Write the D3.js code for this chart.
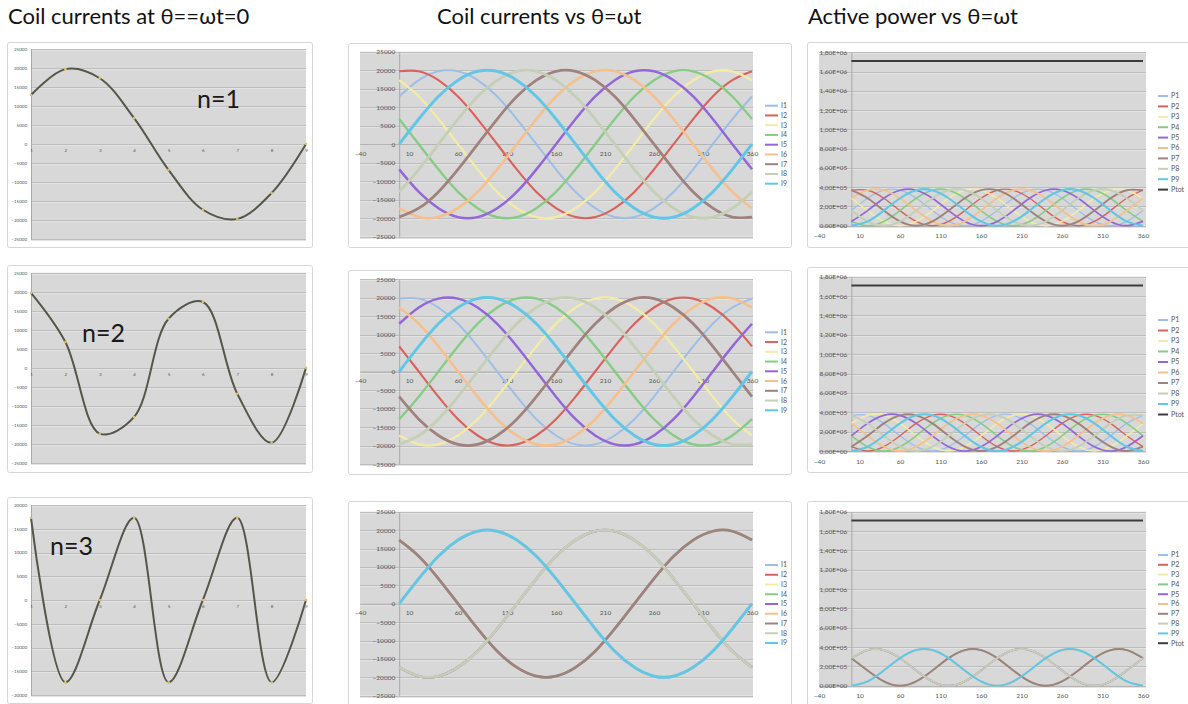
<!DOCTYPE html>
<html>
<head>
<meta charset="utf-8">
<script src="https://cdn.jsdelivr.net/npm/d3@7"></script>
<style>
  body { margin: 0; background: #fff; }
  text { font-family: Lato, 'Open Sans', sans-serif; }
  .title { font-size: 22px; fill: #111; }
  .n-label { font-size: 25px; fill: #1a1a1a; }
  .axis text { fill: #555; }
  .legend text { font-size: 7px; fill: #555; }
</style>
</head>
<body>
<svg id="chart" width="1188" height="704"></svg>
<script>
// ---- data ----
const thetaValues = [0, 20, 40, 60, 80, 100, 120, 140, 160, 180, 200, 220, 240, 260, 280, 300, 320, 340, 360];
const coilNumbers = [1, 2, 3, 4, 5, 6, 7, 8, 9];
const currentNames = ['I1', 'I2', 'I3', 'I4', 'I5', 'I6', 'I7', 'I8', 'I9'];
const powerNames = ['P1', 'P2', 'P3', 'P4', 'P5', 'P6', 'P7', 'P8', 'P9', 'Ptot'];

const thetaTicks = [-40, 10, 60, 110, 160, 210, 260, 310, 360];
const currentTicks = [-25000, -20000, -15000, -10000, -5000, 0, 5000, 10000, 15000, 20000, 25000];
const currentTicksN3 = [-20000, -15000, -10000, -5000, 0, 5000, 10000, 15000, 20000];
const powerTicks = [0, 200000, 400000, 600000, 800000, 1000000, 1200000, 1400000, 1600000, 1800000];

// coil currents at theta = 0, coil 1..9
const snapshotN1 = [12900, 19700, 17300, 6800, -6800, -17300, -19700, -12900, 0];
const snapshotN2 = [19700, 6800, -17300, -12900, 12900, 17300, -6800, -19700, 0];
const snapshotN3 = [17300, -17300, 0, 17300, -17300, 0, 17300, -17300, 0];

// coil currents vs theta (one row per coil I1..I9)
const currentsN1 = [
  [12900, 17300, 19700, 19700, 17300, 12900, 6800, 0, -6800, -12900, -17300, -19700, -19700, -17300, -12900, -6800, 0, 6800, 12900],
  [19700, 19700, 17300, 12900, 6800, 0, -6800, -12900, -17300, -19700, -19700, -17300, -12900, -6800, 0, 6800, 12900, 17300, 19700],
  [17300, 12900, 6800, 0, -6800, -12900, -17300, -19700, -19700, -17300, -12900, -6800, 0, 6800, 12900, 17300, 19700, 19700, 17300],
  [6800, 0, -6800, -12900, -17300, -19700, -19700, -17300, -12900, -6800, 0, 6800, 12900, 17300, 19700, 19700, 17300, 12900, 6800],
  [-6800, -12900, -17300, -19700, -19700, -17300, -12900, -6800, 0, 6800, 12900, 17300, 19700, 19700, 17300, 12900, 6800, 0, -6800],
  [-17300, -19700, -19700, -17300, -12900, -6800, 0, 6800, 12900, 17300, 19700, 19700, 17300, 12900, 6800, 0, -6800, -12900, -17300],
  [-19700, -17300, -12900, -6800, 0, 6800, 12900, 17300, 19700, 19700, 17300, 12900, 6800, 0, -6800, -12900, -17300, -19700, -19700],
  [-12900, -6800, 0, 6800, 12900, 17300, 19700, 19700, 17300, 12900, 6800, 0, -6800, -12900, -17300, -19700, -19700, -17300, -12900],
  [0, 6800, 12900, 17300, 19700, 19700, 17300, 12900, 6800, 0, -6800, -12900, -17300, -19700, -19700, -17300, -12900, -6800, 0]
];
const currentsN2 = [
  [19700, 19700, 17300, 12900, 6800, 0, -6800, -12900, -17300, -19700, -19700, -17300, -12900, -6800, 0, 6800, 12900, 17300, 19700],
  [6800, 0, -6800, -12900, -17300, -19700, -19700, -17300, -12900, -6800, 0, 6800, 12900, 17300, 19700, 19700, 17300, 12900, 6800],
  [-17300, -19700, -19700, -17300, -12900, -6800, 0, 6800, 12900, 17300, 19700, 19700, 17300, 12900, 6800, 0, -6800, -12900, -17300],
  [-12900, -6800, 0, 6800, 12900, 17300, 19700, 19700, 17300, 12900, 6800, 0, -6800, -12900, -17300, -19700, -19700, -17300, -12900],
  [12900, 17300, 19700, 19700, 17300, 12900, 6800, 0, -6800, -12900, -17300, -19700, -19700, -17300, -12900, -6800, 0, 6800, 12900],
  [17300, 12900, 6800, 0, -6800, -12900, -17300, -19700, -19700, -17300, -12900, -6800, 0, 6800, 12900, 17300, 19700, 19700, 17300],
  [-6800, -12900, -17300, -19700, -19700, -17300, -12900, -6800, 0, 6800, 12900, 17300, 19700, 19700, 17300, 12900, 6800, 0, -6800],
  [-19700, -17300, -12900, -6800, 0, 6800, 12900, 17300, 19700, 19700, 17300, 12900, 6800, 0, -6800, -12900, -17300, -19700, -19700],
  [0, 6800, 12900, 17300, 19700, 19700, 17300, 12900, 6800, 0, -6800, -12900, -17300, -19700, -19700, -17300, -12900, -6800, 0]
];
const currentsN3 = [
  [17300, 12900, 6800, 0, -6800, -12900, -17300, -19700, -19700, -17300, -12900, -6800, 0, 6800, 12900, 17300, 19700, 19700, 17300],
  [-17300, -19700, -19700, -17300, -12900, -6800, 0, 6800, 12900, 17300, 19700, 19700, 17300, 12900, 6800, 0, -6800, -12900, -17300],
  [0, 6800, 12900, 17300, 19700, 19700, 17300, 12900, 6800, 0, -6800, -12900, -17300, -19700, -19700, -17300, -12900, -6800, 0],
  [17300, 12900, 6800, 0, -6800, -12900, -17300, -19700, -19700, -17300, -12900, -6800, 0, 6800, 12900, 17300, 19700, 19700, 17300],
  [-17300, -19700, -19700, -17300, -12900, -6800, 0, 6800, 12900, 17300, 19700, 19700, 17300, 12900, 6800, 0, -6800, -12900, -17300],
  [0, 6800, 12900, 17300, 19700, 19700, 17300, 12900, 6800, 0, -6800, -12900, -17300, -19700, -19700, -17300, -12900, -6800, 0],
  [17300, 12900, 6800, 0, -6800, -12900, -17300, -19700, -19700, -17300, -12900, -6800, 0, 6800, 12900, 17300, 19700, 19700, 17300],
  [-17300, -19700, -19700, -17300, -12900, -6800, 0, 6800, 12900, 17300, 19700, 19700, 17300, 12900, 6800, 0, -6800, -12900, -17300],
  [0, 6800, 12900, 17300, 19700, 19700, 17300, 12900, 6800, 0, -6800, -12900, -17300, -19700, -19700, -17300, -12900, -6800, 0]
];

// active power vs theta (P1..P9, then Ptot)
const powersN1 = [
  [157000, 285000, 368500, 368500, 285000, 157000, 44500, 0, 44500, 157000, 285000, 368500, 368500, 285000, 157000, 44500, 0, 44500, 157000],
  [368500, 368500, 285000, 157000, 44500, 0, 44500, 157000, 285000, 368500, 368500, 285000, 157000, 44500, 0, 44500, 157000, 285000, 368500],
  [285000, 157000, 44500, 0, 44500, 157000, 285000, 368500, 368500, 285000, 157000, 44500, 0, 44500, 157000, 285000, 368500, 368500, 285000],
  [44500, 0, 44500, 157000, 285000, 368500, 368500, 285000, 157000, 44500, 0, 44500, 157000, 285000, 368500, 368500, 285000, 157000, 44500],
  [44500, 157000, 285000, 368500, 368500, 285000, 157000, 44500, 0, 44500, 157000, 285000, 368500, 368500, 285000, 157000, 44500, 0, 44500],
  [285000, 368500, 368500, 285000, 157000, 44500, 0, 44500, 157000, 285000, 368500, 368500, 285000, 157000, 44500, 0, 44500, 157000, 285000],
  [368500, 285000, 157000, 44500, 0, 44500, 157000, 285000, 368500, 368500, 285000, 157000, 44500, 0, 44500, 157000, 285000, 368500, 368500],
  [157000, 44500, 0, 44500, 157000, 285000, 368500, 368500, 285000, 157000, 44500, 0, 44500, 157000, 285000, 368500, 368500, 285000, 157000],
  [0, 44500, 157000, 285000, 368500, 368500, 285000, 157000, 44500, 0, 44500, 157000, 285000, 368500, 368500, 285000, 157000, 44500, 0],
  [1710000, 1710000, 1710000, 1710000, 1710000, 1710000, 1710000, 1710000, 1710000, 1710000, 1710000, 1710000, 1710000, 1710000, 1710000, 1710000, 1710000, 1710000, 1710000]
];
const powersN2 = [
  [368500, 368500, 285000, 157000, 44500, 0, 44500, 157000, 285000, 368500, 368500, 285000, 157000, 44500, 0, 44500, 157000, 285000, 368500],
  [44500, 0, 44500, 157000, 285000, 368500, 368500, 285000, 157000, 44500, 0, 44500, 157000, 285000, 368500, 368500, 285000, 157000, 44500],
  [285000, 368500, 368500, 285000, 157000, 44500, 0, 44500, 157000, 285000, 368500, 368500, 285000, 157000, 44500, 0, 44500, 157000, 285000],
  [157000, 44500, 0, 44500, 157000, 285000, 368500, 368500, 285000, 157000, 44500, 0, 44500, 157000, 285000, 368500, 368500, 285000, 157000],
  [157000, 285000, 368500, 368500, 285000, 157000, 44500, 0, 44500, 157000, 285000, 368500, 368500, 285000, 157000, 44500, 0, 44500, 157000],
  [285000, 157000, 44500, 0, 44500, 157000, 285000, 368500, 368500, 285000, 157000, 44500, 0, 44500, 157000, 285000, 368500, 368500, 285000],
  [44500, 157000, 285000, 368500, 368500, 285000, 157000, 44500, 0, 44500, 157000, 285000, 368500, 368500, 285000, 157000, 44500, 0, 44500],
  [368500, 285000, 157000, 44500, 0, 44500, 157000, 285000, 368500, 368500, 285000, 157000, 44500, 0, 44500, 157000, 285000, 368500, 368500],
  [0, 44500, 157000, 285000, 368500, 368500, 285000, 157000, 44500, 0, 44500, 157000, 285000, 368500, 368500, 285000, 157000, 44500, 0],
  [1710000, 1710000, 1710000, 1710000, 1710000, 1710000, 1710000, 1710000, 1710000, 1710000, 1710000, 1710000, 1710000, 1710000, 1710000, 1710000, 1710000, 1710000, 1710000]
];
const powersN3 = [
  [285000, 157000, 44500, 0, 44500, 157000, 285000, 368500, 368500, 285000, 157000, 44500, 0, 44500, 157000, 285000, 368500, 368500, 285000],
  [285000, 368500, 368500, 285000, 157000, 44500, 0, 44500, 157000, 285000, 368500, 368500, 285000, 157000, 44500, 0, 44500, 157000, 285000],
  [0, 44500, 157000, 285000, 368500, 368500, 285000, 157000, 44500, 0, 44500, 157000, 285000, 368500, 368500, 285000, 157000, 44500, 0],
  [285000, 157000, 44500, 0, 44500, 157000, 285000, 368500, 368500, 285000, 157000, 44500, 0, 44500, 157000, 285000, 368500, 368500, 285000],
  [285000, 368500, 368500, 285000, 157000, 44500, 0, 44500, 157000, 285000, 368500, 368500, 285000, 157000, 44500, 0, 44500, 157000, 285000],
  [0, 44500, 157000, 285000, 368500, 368500, 285000, 157000, 44500, 0, 44500, 157000, 285000, 368500, 368500, 285000, 157000, 44500, 0],
  [285000, 157000, 44500, 0, 44500, 157000, 285000, 368500, 368500, 285000, 157000, 44500, 0, 44500, 157000, 285000, 368500, 368500, 285000],
  [285000, 368500, 368500, 285000, 157000, 44500, 0, 44500, 157000, 285000, 368500, 368500, 285000, 157000, 44500, 0, 44500, 157000, 285000],
  [0, 44500, 157000, 285000, 368500, 368500, 285000, 157000, 44500, 0, 44500, 157000, 285000, 368500, 368500, 285000, 157000, 44500, 0],
  [1710000, 1710000, 1710000, 1710000, 1710000, 1710000, 1710000, 1710000, 1710000, 1710000, 1710000, 1710000, 1710000, 1710000, 1710000, 1710000, 1710000, 1710000, 1710000]
];

// ---- styles and layout ----
const seriesColors = ['#9dbfe6', '#d8625c', '#f3eca6', '#86cc84', '#9366d9', '#f6c08e', '#9f827d', '#c5cfb6', '#62c6e6', '#3c3c3c'];
const PLOT_FILL = '#d8d8d8';
const GRID_DARK = '#bdbdbd';
const GRID_LIGHT = '#e3e3e3';

const rows = [
  {
    label: 'n=1', labelX: 197, labelY: 108,
    snapshot: snapshotN1, snapTicks: currentTicks, snapFrame: [7, 42, 305, 205], snapTop: 49, snapBottom: 239,
    currents: currentsN1, midFrame: [348, 43, 443, 204], midTop: 51.7, midBottom: 236.7, midLegendY: 105.7,
    powers: powersN1, powFrame: [807, 42, 400, 205], powTop: 52.3, powBottom: 225.7, powLegendY: 96, powLegendStep: 10.4
  },
  {
    label: 'n=2', labelX: 82, labelY: 342,
    snapshot: snapshotN2, snapTicks: currentTicks, snapFrame: [7, 265, 305, 207], snapTop: 272.7, snapBottom: 463,
    currents: currentsN2, midFrame: [348, 270, 443, 204], midTop: 279, midBottom: 464, midLegendY: 332.3,
    powers: powersN2, powFrame: [807, 267, 400, 205], powTop: 276.7, powBottom: 451, powLegendY: 320, powLegendStep: 10.5
  },
  {
    label: 'n=3', labelX: 50, labelY: 555,
    snapshot: snapshotN3, snapTicks: currentTicksN3, snapFrame: [7, 497, 305, 206], snapTop: 505, snapBottom: 695,
    currents: currentsN3, midFrame: [348, 501, 443, 210], midTop: 511.7, midBottom: 695.7, midLegendY: 565,
    powers: powersN3, powFrame: [807, 501, 400, 210], powTop: 511.7, powBottom: 685.7, powLegendY: 555, powLegendStep: 9.8
  }
];

const svg = d3.select('#chart');

svg.append('text').classed('title', true).attr('x', 8).attr('y', 24).text('Coil currents at θ==ωt=0');
svg.append('text').classed('title', true).attr('x', 437).attr('y', 24).text('Coil currents vs θ=ωt');
svg.append('text').classed('title', true).attr('x', 808).attr('y', 24).text('Active power vs θ=ωt');

function frame(g, [x, y, w, h]) {
  g.append('rect')
    .attr('x', x + 0.5)
    .attr('y', y + 0.5)
    .attr('width', w)
    .attr('height', h)
    .attr('rx', 2)
    .attr('fill', '#fff')
    .attr('stroke', '#d6d6d6');
}

function plotArea(g, x0, x1, yScale, ticks) {
  const [bottom, top] = yScale.range();
  g.append('rect')
    .attr('x', x0)
    .attr('y', top)
    .attr('width', x1 - x0)
    .attr('height', bottom - top)
    .attr('fill', PLOT_FILL);
  const grid = g.append('g');
  grid.selectAll('line.dark')
    .data(ticks)
    .join('line')
      .attr('class', 'dark')
      .attr('x1', x0)
      .attr('x2', x1)
      .attr('y1', (d) => Math.round(yScale(d)) + 0.5)
      .attr('y2', (d) => Math.round(yScale(d)) + 0.5)
      .attr('stroke', GRID_DARK);
  grid.selectAll('line.light')
    .data(ticks)
    .join('line')
      .attr('class', 'light')
      .attr('x1', x0)
      .attr('x2', x1)
      .attr('y1', (d) => Math.round(yScale(d)) + 1.5)
      .attr('y2', (d) => Math.round(yScale(d)) + 1.5)
      .attr('stroke', GRID_LIGHT);
}

function styleAxis(axisG, fontSize) {
  axisG.classed('axis', true)
    .attr('font-family', null)
    .attr('font-size', fontSize);
}

const plainNumber = d3.format('d');

function powerLabel(v) {
  const [mant, exp] = d3.format('.2e')(v).split('e');
  const e = +exp;
  return mant.replace('.', ',') + 'E' + (e < 0 ? '-' : '+') + String(Math.abs(e)).padStart(2, '0');
}

function drawSnapshot(row) {
  const g = svg.append('g');
  frame(g, row.snapFrame);
  const x = d3.scaleLinear().domain([1, 9]).range([31, 306]);
  const y = d3.scaleLinear().domain(d3.extent(row.snapTicks)).range([row.snapBottom, row.snapTop]);
  plotArea(g, 31, 306, y, row.snapTicks);

  g.append('g')
    .attr('transform', `translate(31,0)`)
    .call(d3.axisLeft(y).tickValues(row.snapTicks).tickFormat(plainNumber).tickSize(0).tickPadding(4))
    .call((a) => styleAxis(a, 4.5))
    .call((a) => a.select('.domain').attr('stroke', '#a8a8a8'));
  g.append('g')
    .attr('transform', `translate(0,${y(0)})`)
    .call(d3.axisBottom(x).tickValues(coilNumbers).tickFormat(plainNumber).tickSize(0).tickPadding(5))
    .call((a) => styleAxis(a, 4.5))
    .call((a) => a.select('.domain').remove());

  const line = d3.line()
    .x((d, i) => x(coilNumbers[i]))
    .y((d) => y(d))
    .curve(d3.curveCatmullRom.alpha(0.5));
  g.append('path')
    .datum(row.snapshot)
    .attr('d', line)
    .attr('fill', 'none')
    .attr('stroke', '#55554a')
    .attr('stroke-width', 2);
  g.selectAll('circle')
    .data(row.snapshot)
    .join('circle')
      .attr('cx', (d, i) => x(coilNumbers[i]))
      .attr('cy', (d) => y(d))
      .attr('r', 1.3)
      .attr('fill', '#d9c35c');

  g.append('text')
    .classed('n-label', true)
    .attr('x', row.labelX)
    .attr('y', row.labelY)
    .text(row.label);
}

function drawCurrents(row) {
  const g = svg.append('g');
  frame(g, row.midFrame);
  const x = d3.scaleLinear().domain([-40, 360]).range([360, 752]);
  const y = d3.scaleLinear().domain([-25000, 25000]).range([row.midBottom, row.midTop]);
  plotArea(g, 360, 753, y, currentTicks);

  g.append('g')
    .attr('transform', `translate(0,${y(0)})`)
    .call(d3.axisBottom(x).tickValues(thetaTicks).tickFormat(plainNumber).tickSize(0).tickPadding(7))
    .call((a) => styleAxis(a, 6.5))
    .call((a) => a.select('.domain').attr('stroke', '#b0b0b0'));
  g.append('g')
    .attr('transform', `translate(${x(0)},0)`)
    .call(d3.axisLeft(y).tickValues(currentTicks).tickFormat(plainNumber).tickSize(0).tickPadding(4))
    .call((a) => styleAxis(a, 6.5))
    .call((a) => a.select('.domain').attr('stroke', '#a8a8a8'));

  const line = d3.line()
    .x((d, i) => x(thetaValues[i]))
    .y((d) => y(d))
    .curve(d3.curveNatural);
  // later series a touch wider so coincident curves hide the ones below
  g.append('g')
    .selectAll('path')
    .data(row.currents)
    .join('path')
      .attr('d', line)
      .attr('fill', 'none')
      .attr('stroke', (d, i) => seriesColors[i])
      .attr('stroke-width', (d, i) => 2 + i * 0.12);

  const legend = g.append('g').classed('legend', true);
  const items = legend.selectAll('g')
    .data(currentNames)
    .join('g')
      .attr('transform', (d, i) => `translate(765,${row.midLegendY + i * 9.75})`);
  items.append('line')
    .attr('x1', 0)
    .attr('x2', 13)
    .attr('stroke', (d, i) => seriesColors[i])
    .attr('stroke-width', 2);
  items.append('text')
    .attr('x', 16)
    .attr('dy', '0.35em')
    .text((d) => d);
}

function drawPowers(row) {
  const g = svg.append('g');
  frame(g, row.powFrame);
  const x = d3.scaleLinear().domain([-40, 360]).range([819, 1143]);
  const y = d3.scaleLinear().domain([0, 1800000]).range([row.powBottom, row.powTop]);
  plotArea(g, 819, 1146, y, powerTicks);

  g.append('g')
    .attr('transform', `translate(0,${y(0)})`)
    .call(d3.axisBottom(x).tickValues(thetaTicks).tickFormat(plainNumber).tickSize(0).tickPadding(8))
    .call((a) => styleAxis(a, 6.5))
    .call((a) => a.select('.domain').attr('stroke', '#b0b0b0'));
  g.append('g')
    .attr('transform', `translate(${x(0)},0)`)
    .call(d3.axisLeft(y).tickValues(powerTicks).tickFormat(powerLabel).tickSize(0).tickPadding(4))
    .call((a) => styleAxis(a, 6.5))
    .call((a) => a.select('.domain').attr('stroke', '#a8a8a8'));

  const line = d3.line()
    .x((d, i) => x(thetaValues[i]))
    .y((d) => y(d))
    .curve(d3.curveNatural);
  g.append('g')
    .selectAll('path')
    .data(row.powers)
    .join('path')
      .attr('d', line)
      .attr('fill', 'none')
      .attr('stroke', (d, i) => seriesColors[i])
      .attr('stroke-width', (d, i) => (i === 9 ? 2 : 1.3 + i * 0.1));

  const legend = g.append('g').classed('legend', true);
  const items = legend.selectAll('g')
    .data(powerNames)
    .join('g')
      .attr('transform', (d, i) => `translate(1158,${row.powLegendY + i * row.powLegendStep})`);
  items.append('line')
    .attr('x1', 0)
    .attr('x2', 10)
    .attr('stroke', (d, i) => seriesColors[i])
    .attr('stroke-width', 2);
  items.append('text')
    .attr('x', 13)
    .attr('dy', '0.35em')
    .text((d) => d);
}

rows.forEach((row) => {
  drawSnapshot(row);
  drawCurrents(row);
  drawPowers(row);
});
</script>
</body>
</html>
